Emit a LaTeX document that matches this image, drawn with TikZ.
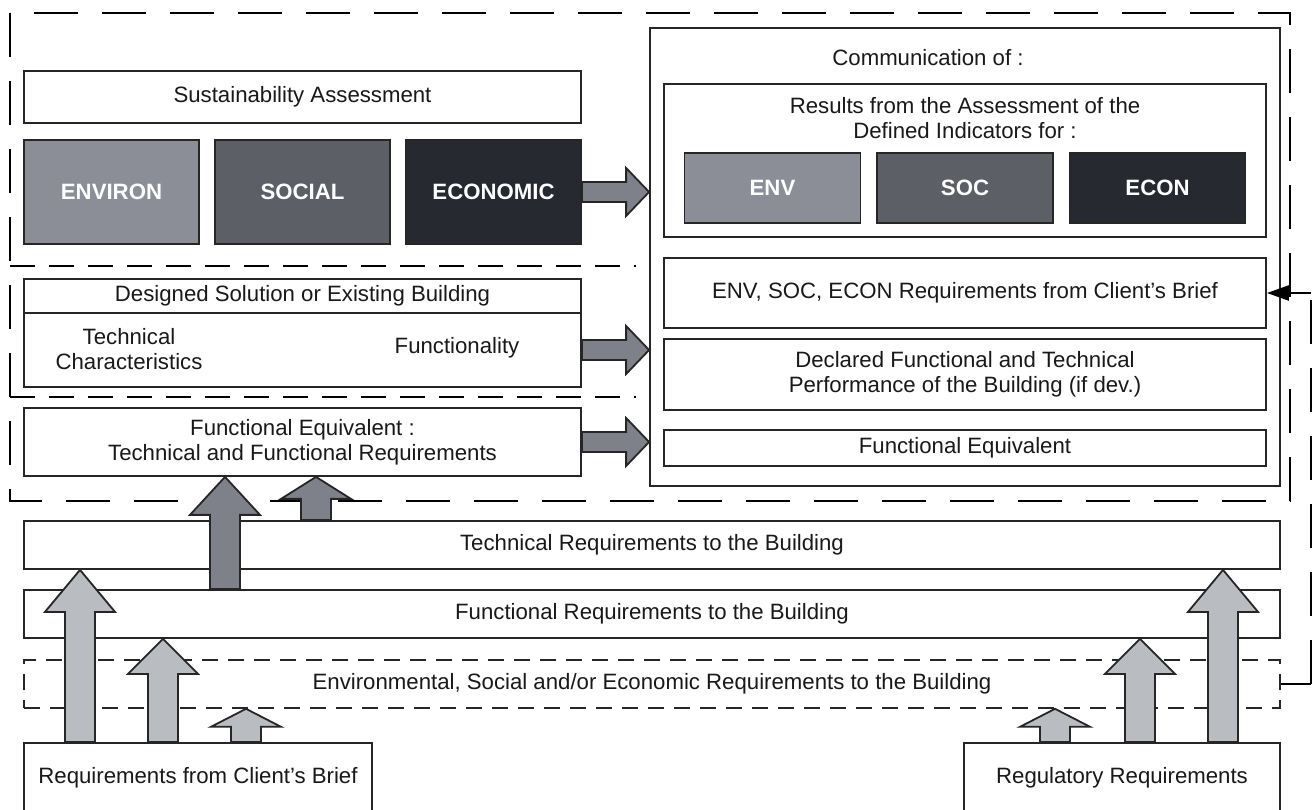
\documentclass[tikz,border=0pt]{standalone}
\usepackage{fontspec}
\setmainfont{Liberation Sans}
\usetikzlibrary{arrows.meta,calc}
\definecolor{boxline}{HTML}{262626}
\definecolor{envfill}{HTML}{8B8E97}
\definecolor{socfill}{HTML}{5C5F66}
\definecolor{econfill}{HTML}{262930}
\definecolor{darkarrow}{HTML}{7E818A}
\definecolor{lightarrow}{HTML}{B9BCC1}
% block arrow pointing up: base, tip, head length, fill
\newcommand{\blkup}[4]{%
\filldraw[fill=#4,draw=boxline,line width=1.800000pt,line join=miter] let \p1=(#1), \p2=(#2) in
 (\x1-15pt,\y1) -- (\x1-15pt,\y2-#3pt) -- (\x1-35pt,\y2-#3pt) -- (\x1,\y2) -- (\x1+35pt,\y2-#3pt) -- (\x1+15pt,\y2-#3pt) -- (\x1+15pt,\y1) -- cycle;}
% block arrow pointing right: base, tip
\newcommand{\blkright}[2]{%
\filldraw[fill=darkarrow,draw=boxline,line width=1.800000pt,line join=miter] let \p1=(#1), \p2=(#2) in
 (\x1,\y1+10pt) -- (\x2-23pt,\y1+10pt) -- (\x2-23pt,\y1+24pt) -- (\x2,\y1) -- (\x2-23pt,\y1-24pt) -- (\x2-23pt,\y1-10pt) -- (\x1,\y1-10pt) -- cycle;}
\begin{document}
\begin{tikzpicture}[scale=1.000000,x=1pt,y=1pt,
  box/.style={draw=boxline,line width=1.800000pt,fill=white,inner sep=0pt,text=black!90,font=\fontsize{22.2}{25}\selectfont,align=center},
  tone/.style={draw=boxline,line width=1.800000pt,inner sep=0pt,text=white,font=\fontsize{22.2}{25}\selectfont\bfseries},
  txt/.style={inner sep=0pt,text=black!90,font=\fontsize{22.2}{25}\selectfont,align=center}]
\useasboundingbox (0.000000, 0.000000) rectangle (1316.000000, 809.000000);
\filldraw[color=white] (0.000000, 0.000000) rectangle (1316.000000, 809.000000);
% Drawing frames
\draw[line width=2.700000pt,dash pattern=on 44pt off 24pt] (10.000000,796.000000) rectangle (1290.000000,308.000000);
\draw[line width=2.500000pt,dash pattern=on 25pt off 14pt] (10.000000,543.000000) -- (636.000000,543.000000);
\draw[line width=2.500000pt,dash pattern=on 25pt off 14pt] (10.000000,412.000000) -- (636.000000,412.000000);
% Assessment block
\node[box,minimum width=557pt,minimum height=52pt,line width=2.800000pt] (sust) at (302.500000,712.000000) {Sustainability Assessment};
\node[tone,fill=envfill,minimum width=175pt,minimum height=104pt] (environ) at (111.500000,617.000000) {ENVIRON};
\node[tone,fill=socfill,minimum width=175pt,minimum height=104pt] (social) at (302.500000,617.000000) {SOCIAL};
\node[tone,fill=econfill,minimum width=175pt,minimum height=104pt] (econ) at (493.500000,617.000000) {ECONOMIC};
% Designed solution block
\node[box,minimum width=557pt,minimum height=34pt] (dstitle) at (302.500000,513.000000) {Designed Solution or Existing Building};
\node[box,minimum width=557pt,minimum height=74pt] (dsbody) at (302.500000,459.000000) {};
\node[txt] (dstech) at (129.000000,460.000000) {Technical\\Characteristics};
\node[txt] (dsfunc) at (457.000000,461.000000) {Functionality};
% Functional equivalent block
\node[box,minimum width=557pt,minimum height=68pt] (feleft) at (302.500000,367.000000) {Functional Equivalent :\\Technical and Functional Requirements};
% Communication block
\node[box,minimum width=630pt,minimum height=458pt] (comm) at (965.000000,552.000000) {};
\node[txt] (commtitle) at (928.000000,751.000000) {Communication of :};
\node[box,minimum width=602pt,minimum height=153pt] (results) at (965.000000,648.500000) {};
\node[txt] (restitle) at (965.000000,691.000000) {Results from the Assessment of the\\Defined Indicators for :};
\node[tone,fill=envfill,minimum width=176pt,minimum height=70pt] (env) at (772.500000,621.000000) {ENV};
\node[tone,fill=socfill,minimum width=176pt,minimum height=70pt] (soc) at (965.000000,621.000000) {SOC};
\node[tone,fill=econfill,minimum width=176pt,minimum height=70pt] (econr) at (1157.500000,621.000000) {ECON};
\node[box,minimum width=602pt,minimum height=70pt] (envreq) at (965.000000,516.000000) {ENV, SOC, ECON Requirements from Client's Brief};
\node[box,minimum width=602pt,minimum height=71pt] (declared) at (965.000000,434.500000) {Declared Functional and Technical\\Performance of the Building (if dev.)};
\node[box,minimum width=602pt,minimum height=36pt] (feright) at (965.000000,361.000000) {Functional Equivalent};
% Requirement layers
\node[box,minimum width=1256pt,minimum height=48pt] (tech) at (652.000000,264.000000) {Technical Requirements to the Building};
\node[box,minimum width=1256pt,minimum height=48pt] (func) at (652.000000,195.000000) {Functional Requirements to the Building};
\node[box,minimum width=1256pt,minimum height=48pt,line width=1.600000pt,dash pattern=on 16pt off 10pt] (envbox) at (652.000000,125.000000) {Environmental, Social and/or Economic Requirements to the Building};
\node[box,minimum width=348pt,minimum height=70pt] (client) at (198.000000,31.000000) {Requirements from Client's Brief};
\node[box,minimum width=316pt,minimum height=70pt] (reg) at (1122.000000,31.000000) {Regulatory Requirements};
% Done with boxes; drawing arrows
\coordinate (ca1) at (80.000000,0.000000);
\coordinate (ca2) at (163.000000,0.000000);
\coordinate (ca3) at (246.000000,0.000000);
\coordinate (cr1) at (1055.000000,0.000000);
\coordinate (cr2) at (1140.000000,0.000000);
\coordinate (cr3) at (1223.000000,0.000000);
\coordinate (cd1) at (225.000000,0.000000);
\coordinate (cd2) at (316.000000,0.000000);
\blkup{ca1|-client.north}{ca1|-tech.south}{42}{lightarrow}
\blkup{ca2|-client.north}{ca2|-func.south}{35}{lightarrow}
\blkup{ca3|-client.north}{ca3|-envbox.south}{18}{lightarrow}
\blkup{cr1|-reg.north}{cr1|-envbox.south}{18}{lightarrow}
\blkup{cr2|-reg.north}{cr2|-func.south}{35}{lightarrow}
\blkup{cr3|-reg.north}{cr3|-tech.south}{42}{lightarrow}
\blkup{cd1|-func.north}{cd1|-feleft.south}{38}{darkarrow}
\blkup{cd2|-tech.north}{cd2|-feleft.south}{22}{darkarrow}
\blkright{econ.east}{comm.west|-econ.east}
\blkright{dsbody.east}{comm.west|-dsbody.east}
\blkright{feleft.east}{comm.west|-feleft.east}
% Feedback line
\coordinate (cbot) at ($(envbox.east)+(30,0)$);
\coordinate (ctop) at (cbot |- envreq.east);
\draw[line width=2.400000pt] (envbox.east) -- (cbot);
\draw[line width=2.400000pt,dash pattern=on 44pt off 24pt] (cbot) -- (ctop);
\draw[line width=2.400000pt,-{Triangle[length=22pt,width=15pt]}] (ctop) -- (envreq.east);
% Done with arrows
\end{tikzpicture}
\end{document}
